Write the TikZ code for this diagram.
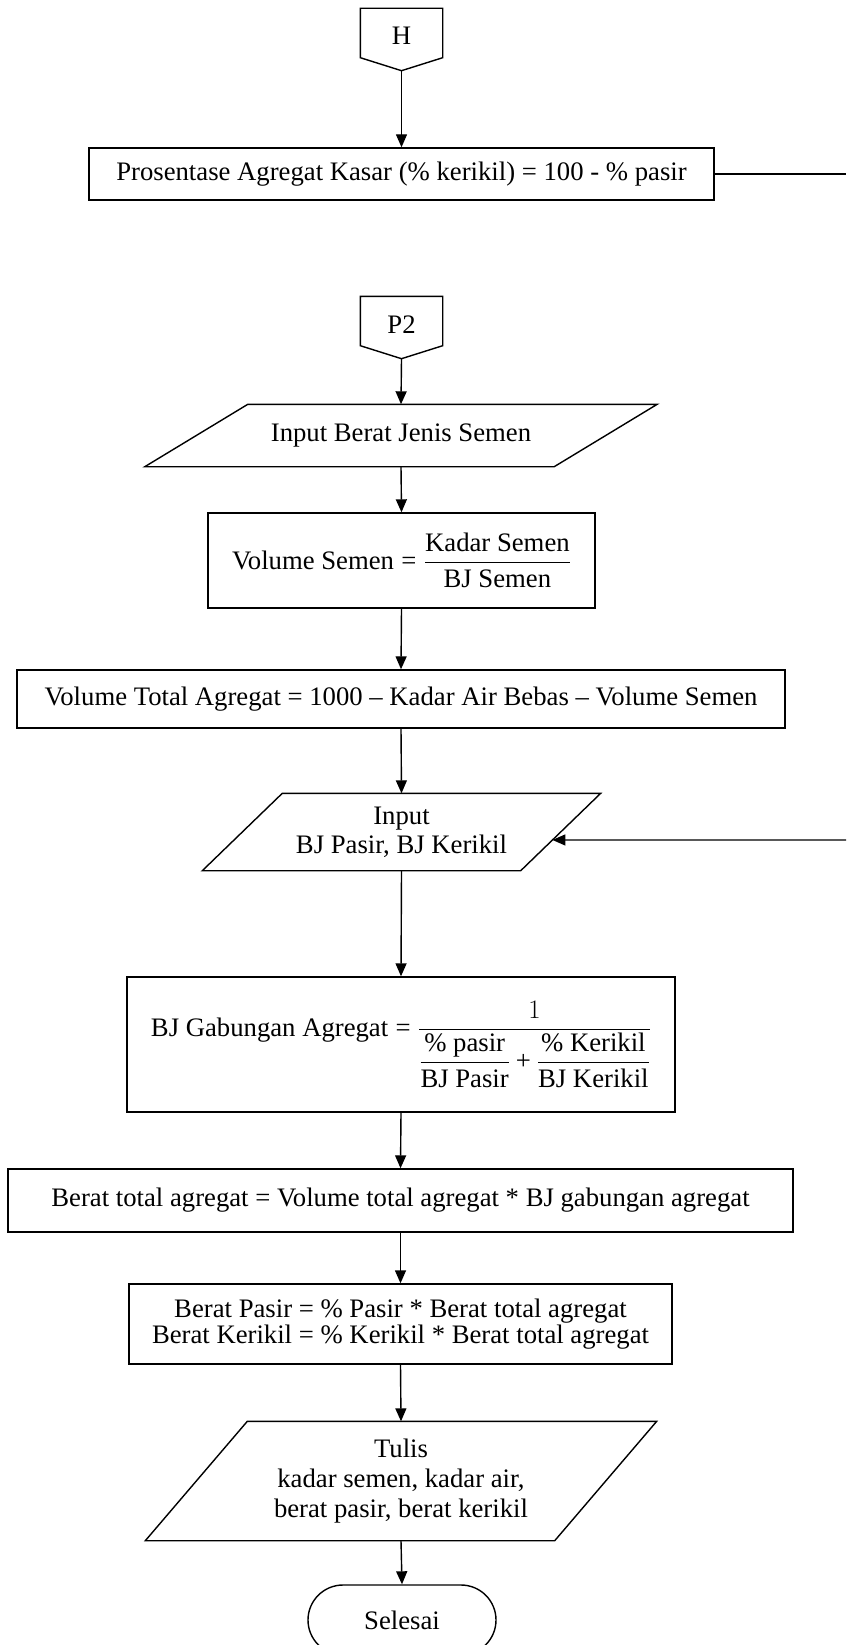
\documentclass[tikz,border=0pt]{standalone}
\usepackage{fix-cm}
\usepackage{amsmath}
\usepackage{fontspec}
\setmainfont{Liberation Serif}
\usetikzlibrary{arrows.meta}

\newcommand{\teq}{\mathrel{\text{=}}}
\newcommand{\tplus}{\mathbin{\text{+}}}

\begin{document}
\begin{tikzpicture}[x=1pt,y=-1pt,
  line width=1.4pt,
  every node/.style={font=\fontsize{26.7}{29}\selectfont, inner sep=0pt, align=center},
  proc/.style={draw, rectangle},
  iobox/.style={rectangle},
  term/.style={draw, rectangle, rounded corners=35pt},
  offpage/.style={minimum width=81pt, minimum height=48pt, text height=24pt, text depth=0pt},
  flow/.style={-{Triangle[length=13pt,width=11pt]}},
]
\useasboundingbox (0,0) rectangle (846,1645);

% off-page connector H
\node[offpage] (h) at (401.5,33) {H};
\draw (h.north west) -- (h.north east) -- (h.south east)
      -- ([yshift=-13pt]h.south) coordinate (hT) -- (h.south west) -- cycle;

% percentage of coarse aggregate
\node[proc, minimum width=625pt, minimum height=52pt] (b1) at (401.5,174)
  {Prosentase Agregat Kasar (\% kerikil) = 100 - \% pasir};
\coordinate (outR) at (846,174);

% off-page connector P2
\node[offpage] (p) at (401.5,321) {P2};
\draw (p.north west) -- (p.north east) -- (p.south east)
      -- ([yshift=-13pt]p.south) coordinate (pT) -- (p.south west) -- cycle;

% input: specific gravity of cement
\node[iobox, minimum width=408pt, minimum height=61pt] (io1) at (401,435.5)
  {Input Berat Jenis Semen};
\draw ([xshift=51.5pt]io1.north west) -- ([xshift=51.5pt]io1.north east)
   -- ([xshift=-51.5pt]io1.south east) -- ([xshift=-51.5pt]io1.south west) -- cycle;

% cement volume
\node[proc, minimum width=387pt, minimum height=95pt] (b2) at (401.5,560.5)
  {$\text{Volume Semen} \teq \dfrac{\text{Kadar Semen}}{\text{BJ Semen}}$};

% total aggregate volume
\node[proc, minimum width=768pt, minimum height=58pt] (b3) at (401,699)
  {Volume Total Agregat = 1000 -- Kadar Air Bebas -- Volume Semen};

% input: specific gravities of sand and gravel
\node[iobox, minimum width=317pt, minimum height=76pt] (io2) at (401.5,832)
  {Input\\BJ Pasir, BJ Kerikil};
\draw ([xshift=40pt]io2.north west) -- ([xshift=40pt]io2.north east) coordinate (io2ne)
   -- ([xshift=-40pt]io2.south east) coordinate (io2se)
   -- ([xshift=-40pt]io2.south west) -- cycle;
\coordinate (inR) at (846,840);
\coordinate (inL) at (0,840);

% combined specific gravity
\node[proc, minimum width=548pt, minimum height=135pt] (b4) at (401,1044.5)
  {$\text{BJ Gabungan Agregat} \teq \dfrac{1}{\dfrac{\text{\% pasir}}{\text{BJ Pasir}}\tplus\dfrac{\text{\% Kerikil}}{\text{BJ Kerikil}}}$};

% total aggregate weight
\node[proc, minimum width=785pt, minimum height=63pt] (b5) at (400.5,1200.5)
  {Berat total agregat = Volume total agregat * BJ gabungan agregat};

% sand and gravel weights
\node[proc, minimum width=543pt, minimum height=80pt,
      font=\fontsize{26.7}{26.5}\selectfont] (b6) at (400.5,1324)
  {Berat Pasir = \% Pasir * Berat total agregat\\
   Berat Kerikil = \% Kerikil * Berat total agregat};

% output
\node[iobox, minimum width=408pt, minimum height=118pt,
      font=\fontsize{26.7}{30}\selectfont] (io3) at (401,1481)
  {Tulis\\kadar semen, kadar air,\\berat pasir, berat kerikil};
\draw ([xshift=51pt]io3.north west) -- ([xshift=51pt]io3.north east)
   -- ([xshift=-51pt]io3.south east) -- ([xshift=-51pt]io3.south west) -- cycle;

% end
\node[term, minimum width=188pt, minimum height=70pt] (end) at (402,1620) {Selesai};

% connectors
\draw[flow] (hT) -- (b1.north);
\draw (b1.east) -- (outR);
\draw[flow] (pT) -- (io1.north);
\draw[flow] (io1.south) -- (b2.north);
\draw[flow] (b2.south) -- (b3.north);
\draw[flow] (b3.south) -- (io2.north);
\draw[flow] (inR) -- (intersection of io2ne--io2se and inR--inL);
\draw[flow] (io2.south) -- (b4.north);
\draw[flow] (b4.south) -- (b5.north);
\draw[flow] (b5.south) -- (b6.north);
\draw[flow] (b6.south) -- (io3.north);
\draw[flow] (io3.south) -- (end.north);
\end{tikzpicture}
\end{document}
